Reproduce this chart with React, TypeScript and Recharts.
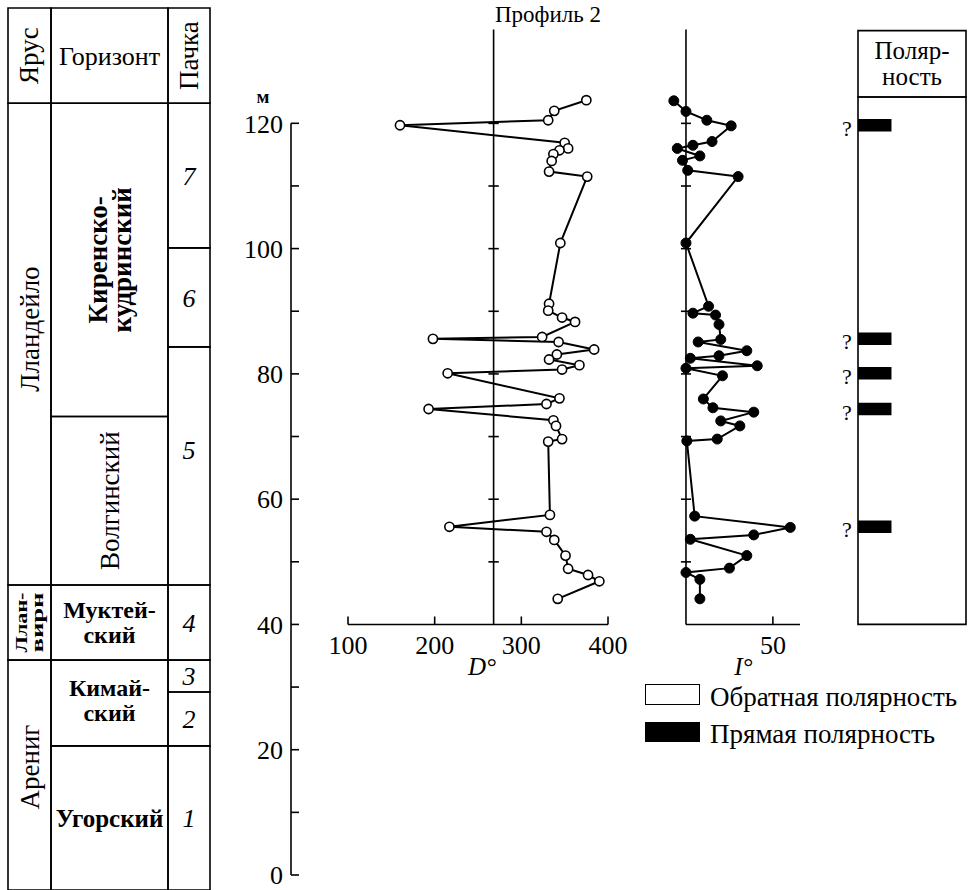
import React from "react";
import {
  ScatterChart,
  Scatter,
  ComposedChart,
  XAxis,
  YAxis,
  ReferenceLine,
  ReferenceArea,
} from "recharts";

const FONT = '"Liberation Serif", "DejaVu Serif", serif';

// declination D (open circles), listed from the top of the section down
const dDepth = [123.7, 122.0, 120.5, 119.7, 116.9, 116.0, 115.7, 115.1, 114.0, 112.3, 111.5, 100.9, 91.2, 90.1, 89.0, 88.3, 85.9, 85.6, 85.1, 83.9, 83.1, 82.3, 81.4, 80.7, 80.1, 76.1, 75.2, 74.4, 72.6, 71.7, 69.6, 69.2, 57.5, 55.6, 54.8, 53.5, 51.0, 48.9, 47.9, 46.9, 44.1];
const dValue = [375, 338, 331, 160, 350, 354, 344, 337, 335, 332, 376, 345, 332, 331, 347, 362, 324, 198, 343, 384, 341, 332, 367, 347, 215, 344, 329, 193, 337, 340, 347, 331, 333, 217, 329, 338, 351, 354, 377, 390, 342];

// inclination I (filled circles)
const iDepth = [123.6, 121.9, 120.5, 119.6, 117.1, 116.5, 116.0, 114.8, 114.1, 112.5, 111.5, 100.9, 90.8, 89.7, 89.4, 87.9, 85.5, 85.1, 83.7, 82.9, 82.5, 81.3, 80.9, 79.7, 76.0, 74.6, 73.9, 72.5, 71.7, 69.6, 69.3, 57.3, 55.5, 54.3, 53.6, 51.0, 49.0, 48.3, 47.2, 44.1];
const iValue = [-7, 0, 12, 26, 15, 4, -5, 8, -2, 1, 30, 0, 13, 4, 17, 19, 20, 7, 35, 19, 2.5, 41, 0, 21, 10, 15.5, 39, 20, 31, 18, 0.5, 5, 60, 39, 2.5, 35, 25, 0, 8, 8];

// normal polarity intervals (m), all marked "?"
const polarityFrom = [118.7, 84.6, 79.1, 73.4, 54.6];
const polarityTo = [120.7, 86.6, 81.1, 75.4, 56.6];

const depthTicks = [0, 10, 20, 30, 40, 50, 60, 70, 80, 90, 100, 110, 120];
const refTicks = [50, 60, 70, 80, 90, 100, 110, 120];
const dTicks = [100, 200, 300, 400];
const iTicks = [50];
const D_REF = 268;

// stratigraphy (m)
const stageNames = [["Лландейло"], ["Ллан-", "вирн"], ["Арениг"]];
const stageFrom = [46.3, 34.3, -2.4];
const stageTo = [123.2, 46.3, 34.3];

const horizonNames = [["Киренско-", "кудринский"], ["Волгинский"], ["Муктей-", "ский"], ["Кимай-", "ский"], ["Угорский"]];
const horizonFrom = [73.2, 46.3, 34.3, 20.6, -2.4];
const horizonTo = [123.2, 73.2, 46.3, 34.3, 20.6];

const packNames = ["7", "6", "5", "4", "3", "2", "1"];
const packFrom = [100.1, 84.3, 46.3, 34.3, 29.2, 20.6, -2.4];
const packTo = [123.2, 100.1, 84.3, 46.3, 34.3, 29.2, 20.6];

const TABLE_TOP = 138.4;
const HEAD = 123.2;
const COL = [0, 43, 160, 202];

type Lbl = {
  lines: string[];
  rotate?: boolean;
  size: number;
  bold?: boolean;
  italic?: boolean;
  dx?: number;
  dy?: number;
  lh?: number;
  len?: number;
};

const cellLabel = (l: Lbl) => (props: any) => {
  const vb = props.viewBox;
  const cx = vb.x + vb.width / 2 + (l.dx || 0);
  const cy = vb.y + vb.height / 2 + (l.dy || 0);
  const lh = l.lh || l.size * 1.1;
  return (
    <text
      transform={l.rotate ? `rotate(-90 ${cx} ${cy})` : undefined}
      textAnchor="middle"
      fontFamily={FONT}
      fontSize={l.size}
      fontWeight={l.bold ? "bold" : "normal"}
      fontStyle={l.italic ? "italic" : "normal"}
      fill="#000"
    >
      {l.lines.map((t, k) => (
        <tspan
          key={k}
          x={cx}
          y={cy + (k - (l.lines.length - 1) / 2) * lh}
          dy="0.35em"
          textLength={l.len}
          lengthAdjust={l.len ? "spacingAndGlyphs" : undefined}
        >
          {t}
        </tspan>
      ))}
    </text>
  );
};

const cell = { stroke: "#000", strokeWidth: 1.6, fill: "none", fillOpacity: 0 };
const noDot = () => null;

const stageLabels: Lbl[] = [
  { lines: stageNames[0], rotate: true, size: 27, dy: -15 },
  { lines: stageNames[1], rotate: true, size: 17, bold: true, lh: 16, len: 60 },
  { lines: stageNames[2], rotate: true, size: 27, dy: -8 },
];
const horizonLabels: Lbl[] = [
  { lines: horizonNames[0], rotate: true, size: 27, bold: true, lh: 24 },
  { lines: horizonNames[1], rotate: true, size: 27 },
  { lines: horizonNames[2], size: 24, bold: true, lh: 25 },
  { lines: horizonNames[3], size: 24, bold: true, lh: 25, dy: -3 },
  { lines: horizonNames[4], size: 25, bold: true },
];

function StratColumn() {
  // invisible anchor points so that the chart builds its scales
  const anchors = packFrom.map((m) => ({ c: COL[2], m }));
  return (
    <ComposedChart width={205} height={883} margin={{ top: 1, right: 2, bottom: 0, left: 1 }}>
      <XAxis type="number" dataKey="c" hide domain={[0, 202]} />
      <YAxis type="number" dataKey="m" hide domain={[-2.4, TABLE_TOP]} />
      <Scatter data={anchors} isAnimationActive={false} shape={noDot} />
      <ReferenceArea x1={COL[0]} x2={COL[1]} y1={HEAD} y2={TABLE_TOP} {...cell}
        label={cellLabel({ lines: ["Ярус"], rotate: true, size: 27, dx: -1 })} />
      <ReferenceArea x1={COL[1]} x2={COL[2]} y1={HEAD} y2={TABLE_TOP} {...cell}
        label={cellLabel({ lines: ["Горизонт"], size: 26 })} />
      <ReferenceArea x1={COL[2]} x2={COL[3]} y1={HEAD} y2={TABLE_TOP} {...cell}
        label={cellLabel({ lines: ["Пачка"], rotate: true, size: 27 })} />
      {stageNames.map((n, k) => (
        <ReferenceArea key={"s" + k} x1={COL[0]} x2={COL[1]} y1={stageFrom[k]} y2={stageTo[k]} {...cell}
          label={cellLabel(stageLabels[k])} />
      ))}
      {horizonNames.map((n, k) => (
        <ReferenceArea key={"h" + k} x1={COL[1]} x2={COL[2]} y1={horizonFrom[k]} y2={horizonTo[k]} {...cell}
          label={cellLabel(horizonLabels[k])} />
      ))}
      {packNames.map((n, k) => (
        <ReferenceArea key={"p" + k} x1={COL[2]} x2={COL[3]} y1={packFrom[k]} y2={packTo[k]} {...cell}
          label={cellLabel({ lines: [n], size: 26, italic: true, dy: k === 2 ? -16 : 0 })} />
      ))}
    </ComposedChart>
  );
}

function DepthAxis() {
  const anchors = depthTicks.map((m) => ({ c: 0, m }));
  return (
    <ComposedChart width={110} height={890} margin={{ top: 123.3, right: 9, bottom: 15, left: 0 }}>
      <XAxis type="number" dataKey="c" hide domain={[0, 1]} />
      <YAxis
        type="number"
        dataKey="m"
        domain={[0, 120]}
        ticks={depthTicks}
        interval={0}
        width={91}
        tickFormatter={(v: number) => (v % 20 === 0 ? String(v) : "")}
        tickSize={-8}
        tickMargin={16}
        axisLine={{ stroke: "#000", strokeWidth: 1.6 }}
        tickLine={{ stroke: "#000", strokeWidth: 1.6 }}
        tick={{ fill: "#000", fontSize: 26, fontFamily: FONT }}
        label={(p: any) => (
          <text x={p.viewBox.x + p.viewBox.width - 28} y={p.viewBox.y - 20} textAnchor="middle"
            fontFamily={FONT} fontSize={19} fontWeight="bold" fill="#000">м</text>
        )}
      />
      <Scatter data={anchors} isAnimationActive={false} shape={noDot} />
    </ComposedChart>
  );
}

const openDot = (p: any) => <circle cx={p.cx} cy={p.cy} r={4.6} fill="#fff" stroke="#000" strokeWidth={1.6} />;
const fullDot = (p: any) => <circle cx={p.cx} cy={p.cy} r={5} fill="#000" stroke="#000" strokeWidth={1} />;

const axisLabel = (text: string, shift: number) => (p: any) => (
  <text x={p.viewBox.x + p.viewBox.width / 2 + shift} y={p.viewBox.y + 50} textAnchor="middle"
    fontFamily={FONT} fontSize={25} fontStyle="italic" fill="#000">{text}</text>
);

function DChart() {
  const data = dDepth.map((m, k) => ({ m, d: dValue[k] }));
  return (
    <ScatterChart width={310} height={690} margin={{ top: 29.4, right: 25, bottom: 5.5, left: 25 }}>
      <XAxis
        type="number"
        dataKey="d"
        domain={[100, 400]}
        ticks={dTicks}
        interval={0}
        height={60}
        tickSize={-8}
        tickMargin={19}
        axisLine={{ stroke: "#000", strokeWidth: 1.6 }}
        tickLine={{ stroke: "#000", strokeWidth: 1.6 }}
        tick={{ fill: "#000", fontSize: 26, fontFamily: FONT }}
        label={axisLabel("D°", 4)}
      />
      <YAxis type="number" dataKey="m" hide domain={[40, 135]} />
      <ReferenceLine x={D_REF} stroke="#000" strokeWidth={1.6} />
      {refTicks.map((t) => (
        <ReferenceLine key={t} segment={[{ x: D_REF - 6, y: t }, { x: D_REF + 6, y: t }]} stroke="#000" strokeWidth={1.6} />
      ))}
      <Scatter data={data} isAnimationActive={false} line={{ stroke: "#000", strokeWidth: 2 }} lineType="joint" shape={openDot} />
    </ScatterChart>
  );
}

function IChart() {
  const data = iDepth.map((m, k) => ({ m, i: iValue[k] }));
  return (
    <ScatterChart width={180} height={690} margin={{ top: 29.4, right: 30, bottom: 5.5, left: 18.6 }}>
      <XAxis
        type="number"
        dataKey="i"
        domain={[-10, 65.6]}
        ticks={iTicks}
        interval={0}
        height={60}
        tickSize={-8}
        tickMargin={19}
        axisLine={false}
        tickLine={{ stroke: "#000", strokeWidth: 1.6 }}
        tick={{ fill: "#000", fontSize: 26, fontFamily: FONT }}
        label={axisLabel("I°", 9)}
      />
      <YAxis type="number" dataKey="m" hide domain={[40, 135]} />
      <ReferenceLine x={0} stroke="#000" strokeWidth={1.6} />
      <ReferenceLine segment={[{ x: 0, y: 40 }, { x: 65.6, y: 40 }]} stroke="#000" strokeWidth={1.6} />
      {refTicks.map((t) => (
        <ReferenceLine key={t} segment={[{ x: -2.9, y: t }, { x: 2.9, y: t }]} stroke="#000" strokeWidth={1.6} />
      ))}
      <Scatter data={data} isAnimationActive={false} line={{ stroke: "#000", strokeWidth: 2 }} lineType="joint" shape={fullDot} />
    </ScatterChart>
  );
}

function PolarityChart() {
  const anchors = polarityFrom.map((m) => ({ c: 0, m }));
  return (
    <ComposedChart width={132} height={660} margin={{ top: 30.6, right: 1, bottom: 35.6, left: 23 }}>
      <XAxis type="number" dataKey="c" hide domain={[0, 1]} />
      <YAxis type="number" dataKey="m" hide domain={[40, 134.8]} />
      <Scatter data={anchors} isAnimationActive={false} shape={noDot} />
      <ReferenceArea x1={0} x2={1} y1={124.2} y2={134.8} {...cell}
        label={cellLabel({ lines: ["Поляр-", "ность"], size: 25, lh: 26, dy: -1 })} />
      <ReferenceArea x1={0} x2={1} y1={40} y2={124.2} {...cell} />
      {polarityFrom.map((f, k) => (
        <ReferenceArea key={k} x1={0} x2={0.31} y1={f} y2={polarityTo[k]} fill="#000" fillOpacity={1} stroke="none"
          label={(p: any) => (
            <text x={p.viewBox.x - 11} y={p.viewBox.y + p.viewBox.height / 2 + 3} dy="0.35em" textAnchor="middle"
              fontFamily={FONT} fontSize={22} fill="#000">?</text>
          )} />
      ))}
    </ComposedChart>
  );
}

const legendText = { position: "absolute" as const, left: 710, fontSize: 27, lineHeight: "22px", color: "#000", whiteSpace: "nowrap" as const };

export default function App() {
  return (
    <div style={{ position: "absolute", left: 0, top: 0, width: 969, height: 890, background: "#fff", overflow: "hidden", fontFamily: FONT }}>
      <div style={{ position: "absolute", left: 7, top: 7 }}><StratColumn /></div>
      <div style={{ position: "absolute", left: 200, top: 0 }}><DepthAxis /></div>
      <div style={{ position: "absolute", left: 323, top: 0 }}><DChart /></div>
      <div style={{ position: "absolute", left: 650, top: 0 }}><IChart /></div>
      <div style={{ position: "absolute", left: 835, top: 0 }}><PolarityChart /></div>
      <div style={{ position: "absolute", left: 448, top: 0, width: 200, textAlign: "center", fontSize: 23, lineHeight: "30px", color: "#000" }}>Профиль 2</div>
      <div style={{ position: "absolute", left: 645, top: 684, width: 55, height: 21, border: "1.6px solid #000", boxSizing: "border-box", background: "#fff" }} />
      <div style={{ ...legendText, top: 686 }}>Обратная полярность</div>
      <div style={{ position: "absolute", left: 645, top: 722, width: 55, height: 20, background: "#000" }} />
      <div style={{ ...legendText, top: 723 }}>Прямая полярность</div>
    </div>
  );
}
